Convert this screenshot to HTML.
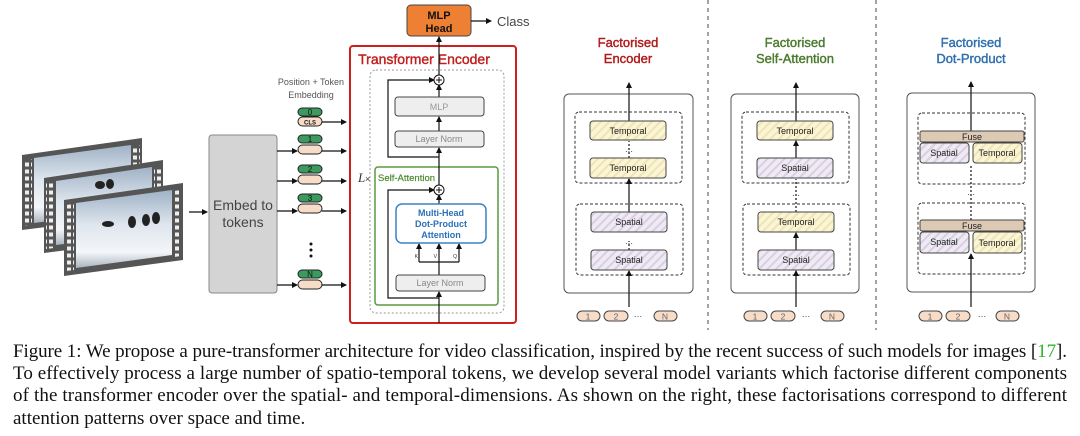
<!DOCTYPE html>
<html><head><meta charset="utf-8"><style>
html,body{margin:0;padding:0;background:#fff;}
svg{display:block;}
.s{font-family:"Liberation Sans",sans-serif;}
.cap{font-family:"Liberation Serif",serif;font-size:19px;fill:#111;}
</style></head><body>
<svg width="1080" height="436" viewBox="0 0 1080 436" xmlns="http://www.w3.org/2000/svg">
<defs>
<marker id="a" markerWidth="6" markerHeight="6" refX="5" refY="3" orient="auto" markerUnits="userSpaceOnUse"><path d="M0,0 L6,3 L0,6z" fill="#111"/></marker>
<pattern id="ht" width="6" height="6" patternUnits="userSpaceOnUse" patternTransform="rotate(45)"><rect width="6" height="6" fill="#fbf5d8"/><rect width="2" height="6" fill="#f0e4b0"/></pattern>
<pattern id="hs" width="6" height="6" patternUnits="userSpaceOnUse" patternTransform="rotate(45)"><rect width="6" height="6" fill="#efeaf3"/><rect width="2" height="6" fill="#d8cfe2"/></pattern>
<linearGradient id="ph" x1="0" y1="0" x2="0" y2="1"><stop offset="0" stop-color="#9fb2c6"/><stop offset="0.45" stop-color="#dfe6ee"/><stop offset="0.8" stop-color="#f4f6f8"/><stop offset="1" stop-color="#a9b4bf"/></linearGradient>
<pattern id="sp" width="6" height="7" patternUnits="userSpaceOnUse"><rect width="6" height="7" fill="#555"/><rect x="1" y="1.5" width="4" height="4" fill="#eee"/></pattern>
</defs>

<!-- film frames -->
<g>
<polygon points="22,155 142,138 142,215 22,230" fill="#555"/>
<polygon points="24,160 32,159 32,225 24,226" fill="url(#sp)"/>
<polygon points="133,146 140,145 140,211 133,212" fill="url(#sp)"/>
<polygon points="34,158 131,145 131,211 34,223" fill="url(#ph)"/>
<polygon points="44,178 163,160 163,238 44,253" fill="#555"/>
<polygon points="46,183 54,182 54,248 46,249" fill="url(#sp)"/>
<polygon points="154,168 161,167 161,233 154,234" fill="url(#sp)"/>
<polygon points="56,181 152,167 152,233 56,245" fill="url(#ph)"/>
<g fill="#222"><ellipse cx="100" cy="185" rx="5" ry="4"/><ellipse cx="110" cy="184" rx="4" ry="5"/></g>
<polygon points="64,200 183,183 183,260 64,276" fill="#555"/>
<polygon points="66,205 74,204 74,270 66,271" fill="url(#sp)"/>
<polygon points="174,191 181,190 181,256 174,257" fill="url(#sp)"/>
<polygon points="76,203 172,190 172,255 76,268" fill="url(#ph)"/>
<g fill="#222"><ellipse cx="132" cy="222" rx="4" ry="6"/><ellipse cx="146" cy="220" rx="4" ry="6"/><ellipse cx="156" cy="218" rx="4" ry="6"/><ellipse cx="108" cy="224" rx="6" ry="3"/></g>
</g>
<line x1="189" y1="212" x2="207" y2="212" stroke="#111" stroke-width="1.2" marker-end="url(#a)"/>

<!-- embed box -->
<rect x="209" y="135" width="68" height="158" rx="3" fill="#d4d4d4" stroke="#888" stroke-width="1"/>
<text class="s" x="243" y="210" font-size="14" fill="#444" text-anchor="middle">Embed to</text>
<text class="s" x="243" y="227" font-size="14" fill="#444" text-anchor="middle">tokens</text>

<text class="s" x="311" y="85" font-size="9" fill="#555" text-anchor="middle">Position + Token</text>
<text class="s" x="311" y="98" font-size="9" fill="#555" text-anchor="middle">Embedding</text>

<g stroke="#222" stroke-width="1">
<rect x="298" y="108" width="24" height="8" rx="4" fill="#3c9a5f"/>
<rect x="298" y="117" width="24" height="9" rx="4.5" fill="#f7dcc8"/>
<rect x="298" y="135" width="24" height="8" rx="4" fill="#3c9a5f"/>
<rect x="298" y="145" width="24" height="9" rx="4.5" fill="#f7dcc8"/>
<rect x="298" y="165" width="24" height="8" rx="4" fill="#3c9a5f"/>
<rect x="298" y="175" width="24" height="9" rx="4.5" fill="#f7dcc8"/>
<rect x="298" y="194" width="24" height="8" rx="4" fill="#3c9a5f"/>
<rect x="298" y="204" width="24" height="9" rx="4.5" fill="#f7dcc8"/>
<rect x="298" y="270" width="24" height="8" rx="4" fill="#3c9a5f"/>
<rect x="298" y="280" width="24" height="9" rx="4.5" fill="#f7dcc8"/>
</g>
<g class="s" font-size="8" fill="#111" text-anchor="middle">
<text x="310" y="115">0</text><text x="310" y="124.5" font-size="6" font-weight="bold">CLS</text>
<text x="310" y="142">1</text><text x="310" y="172">2</text><text x="310" y="201">3</text><text x="310" y="277">N</text>
</g>
<g fill="#111"><circle cx="311" cy="244" r="1.5"/><circle cx="311" cy="250" r="1.5"/><circle cx="311" cy="256" r="1.5"/></g>
<g stroke="#111" stroke-width="1.2" marker-end="url(#a)">
<line x1="322" y1="122" x2="346" y2="122"/>
<line x1="322" y1="151" x2="346" y2="151"/>
<line x1="322" y1="181" x2="346" y2="181"/>
<line x1="322" y1="211" x2="346" y2="211"/>
<line x1="322" y1="285" x2="346" y2="285"/>
<line x1="277" y1="151" x2="297" y2="151"/>
<line x1="277" y1="181" x2="297" y2="181"/>
<line x1="277" y1="211" x2="297" y2="211"/>
<line x1="277" y1="285" x2="297" y2="285"/>
</g>

<!-- transformer encoder -->
<rect x="407" y="5" width="64" height="31" rx="4" fill="#ee8033" stroke="#444" stroke-width="1"/>
<text class="s" x="439" y="19" font-size="11" font-weight="bold" fill="#111" text-anchor="middle">MLP</text>
<text class="s" x="439" y="32" font-size="11" font-weight="bold" fill="#111" text-anchor="middle">Head</text>
<line x1="471" y1="21" x2="491" y2="21" stroke="#111" stroke-width="1.2" marker-end="url(#a)"/>
<text class="s" x="497" y="26" font-size="13" fill="#444">Class</text>

<rect x="350" y="46" width="166" height="277" rx="3" fill="none" stroke="#cc1f1f" stroke-width="2"/>
<text class="s" x="424" y="64" font-size="14" fill="#c31c1c" stroke="#c31c1c" stroke-width="0.4" text-anchor="middle">Transformer  Encoder</text>
<rect x="370" y="70" width="134" height="243" rx="6" fill="none" stroke="#999" stroke-width="1" stroke-dasharray="2,2"/>
<text x="358" y="182" font-size="13" font-style="italic" fill="#333" font-family="Liberation Serif,serif">L</text><text x="365" y="182" font-size="9" fill="#333" class="s">×</text>

<rect x="375" y="167" width="123" height="138" rx="3" fill="none" stroke="#5a9a3e" stroke-width="1.5"/>
<text class="s" x="378" y="181" font-size="9.5" fill="#4e8a30" stroke="#4e8a30" stroke-width="0.2">Self-Attention</text>

<g stroke="#111" stroke-width="1.2" fill="none">
<line x1="439" y1="323" x2="439" y2="292" marker-end="url(#a)"/>
<line x1="439" y1="275" x2="439" y2="262"/>
<line x1="419" y1="262" x2="459" y2="262"/>
<line x1="419" y1="262" x2="419" y2="244" marker-end="url(#a)"/>
<line x1="439" y1="262" x2="439" y2="244" marker-end="url(#a)"/>
<line x1="459" y1="262" x2="459" y2="244" marker-end="url(#a)"/>
<line x1="439" y1="204" x2="439" y2="195" marker-end="url(#a)"/>
<polyline points="439,298 388,298 388,190 434,190" marker-end="url(#a)"/>
<line x1="439" y1="185" x2="439" y2="148" marker-end="url(#a)"/>
<line x1="439" y1="131" x2="439" y2="117" marker-end="url(#a)"/>
<line x1="439" y1="97" x2="439" y2="85" marker-end="url(#a)"/>
<polyline points="439,157 388,157 388,80 434,80" marker-end="url(#a)"/>
<line x1="439" y1="75" x2="439" y2="37" marker-end="url(#a)"/>
</g>
<g fill="#fff" stroke="#111" stroke-width="1"><circle cx="439" cy="190" r="5"/><circle cx="439" cy="80" r="5"/></g>
<g stroke="#111" stroke-width="1"><path d="M436,190h6M439,187v6M436,80h6M439,77v6"/></g>
<text class="s" x="418" y="258" font-size="5" fill="#333" text-anchor="end">K</text>
<text class="s" x="437" y="258" font-size="5" fill="#333" text-anchor="end">V</text>
<text class="s" x="457" y="258" font-size="5" fill="#333" text-anchor="end">Q</text>

<rect x="395" y="97" width="89" height="19" rx="3" fill="#eeeeee" stroke="#444" stroke-width="1"/>
<text class="s" x="439" y="110" font-size="9" fill="#999" text-anchor="middle">MLP</text>
<rect x="395" y="131" width="89" height="16" rx="3" fill="#eeeeee" stroke="#444" stroke-width="1"/>
<text class="s" x="439" y="142" font-size="9" fill="#888" text-anchor="middle">Layer Norm</text>
<rect x="396" y="204" width="90" height="39" rx="6" fill="#fff" stroke="#3a82c8" stroke-width="1.5"/>
<g class="s" font-size="9" fill="#2a70b8" text-anchor="middle" font-weight="bold"><text x="441" y="216">Multi-Head</text><text x="441" y="227">Dot-Product</text><text x="441" y="238">Attention</text></g>
<rect x="396" y="275" width="89" height="16" rx="3" fill="#eeeeee" stroke="#444" stroke-width="1"/>
<text class="s" x="440" y="286" font-size="9" fill="#888" text-anchor="middle">Layer Norm</text>

<!-- dividers -->
<line x1="708" y1="0" x2="708" y2="330" stroke="#666" stroke-width="1.2" stroke-dasharray="4,4"/>
<line x1="876" y1="0" x2="876" y2="330" stroke="#666" stroke-width="1.2" stroke-dasharray="4,4"/>

<!-- titles -->
<g class="s" font-size="13" text-anchor="middle" stroke-width="0.4">
<text x="628" y="47" fill="#b01a1a" stroke="#b01a1a">Factorised</text><text x="628" y="63" fill="#b01a1a" stroke="#b01a1a">Encoder</text>
<text x="795" y="47" fill="#4b7a2e" stroke="#4b7a2e">Factorised</text><text x="795" y="63" fill="#4b7a2e" stroke="#4b7a2e">Self-Attention</text>
<text x="971" y="47" fill="#2e6fae" stroke="#2e6fae">Factorised</text><text x="971" y="63" fill="#2e6fae" stroke="#2e6fae">Dot-Product</text>
</g>

<!-- panel outlines -->
<g fill="none" stroke="#555" stroke-width="1">
<rect x="564" y="94" width="129" height="199" rx="5"/>
<rect x="731" y="94" width="128" height="199" rx="5"/>
<rect x="907" y="93" width="128" height="199" rx="5"/>
</g>
<g fill="none" stroke="#333" stroke-width="1" stroke-dasharray="3,2">
<rect x="575" y="112" width="107" height="71" rx="4"/><rect x="576" y="204" width="107" height="71" rx="4"/>
<rect x="742" y="112" width="107" height="71" rx="4"/><rect x="743" y="204" width="107" height="71" rx="4"/>
<rect x="918" y="113" width="107" height="71" rx="4"/><rect x="918" y="203" width="107" height="71" rx="4"/>
</g>

<!-- arrows in panels -->
<g stroke="#111" stroke-width="1.2" fill="none">
<line x1="629" y1="307" x2="629" y2="271" marker-end="url(#a)"/>
<line x1="629" y1="250" x2="629" y2="241" stroke-dasharray="2,2"/>
<line x1="629" y1="212" x2="629" y2="179" marker-end="url(#a)"/>
<line x1="629" y1="158" x2="629" y2="141" stroke-dasharray="2,2"/>
<line x1="629" y1="121" x2="629" y2="83" marker-end="url(#a)"/>

<line x1="796" y1="307" x2="796" y2="271" marker-end="url(#a)"/>
<line x1="796" y1="250" x2="796" y2="233" marker-end="url(#a)"/>
<line x1="796" y1="212" x2="796" y2="179" stroke-dasharray="2,2"/>
<line x1="796" y1="158" x2="796" y2="141" marker-end="url(#a)"/>
<line x1="796" y1="121" x2="796" y2="83" marker-end="url(#a)"/>

<line x1="971" y1="307" x2="971" y2="254" marker-end="url(#a)"/>
<line x1="971" y1="220" x2="971" y2="164" stroke-dasharray="2,2"/>
<line x1="971" y1="131" x2="971" y2="82" marker-end="url(#a)"/>
</g>

<g stroke="#444" stroke-width="1">
<rect x="590" y="121" width="76" height="19" rx="3" fill="url(#ht)"/>
<rect x="590" y="158" width="76" height="20" rx="3" fill="url(#ht)"/>
<rect x="591" y="212" width="76" height="20" rx="3" fill="url(#hs)"/>
<rect x="591" y="250" width="76" height="20" rx="3" fill="url(#hs)"/>
<rect x="757" y="121" width="76" height="19" rx="3" fill="url(#ht)"/>
<rect x="757" y="158" width="76" height="20" rx="3" fill="url(#hs)"/>
<rect x="758" y="212" width="76" height="20" rx="3" fill="url(#ht)"/>
<rect x="758" y="250" width="76" height="20" rx="3" fill="url(#hs)"/>
<rect x="920" y="131" width="104" height="11" rx="2" fill="#dccab4"/>
<rect x="920" y="143" width="49" height="20" rx="3" fill="url(#hs)"/>
<rect x="973" y="143" width="49" height="20" rx="3" fill="url(#ht)"/>
<rect x="920" y="220" width="104" height="11" rx="2" fill="#dccab4"/>
<rect x="920" y="232" width="49" height="21" rx="3" fill="url(#hs)"/>
<rect x="973" y="232" width="49" height="21" rx="3" fill="url(#ht)"/>
</g>
<g class="s" font-size="9" fill="#222" text-anchor="middle">
<text x="628" y="134">Temporal</text><text x="628" y="171">Temporal</text>
<text x="629" y="225">Spatial</text><text x="629" y="263">Spatial</text>
<text x="795" y="134">Temporal</text><text x="795" y="171">Spatial</text>
<text x="796" y="225">Temporal</text><text x="796" y="263">Spatial</text>
<text x="972" y="140">Fuse</text><text x="944" y="156">Spatial</text><text x="997" y="156">Temporal</text>
<text x="972" y="229">Fuse</text><text x="944" y="245">Spatial</text><text x="997" y="246">Temporal</text>
</g>
<g fill="#111"><text class="s" x="629" y="154" font-size="8" text-anchor="middle">···</text><text class="s" x="629" y="246" font-size="8" text-anchor="middle">···</text><text class="s" x="796" y="198" font-size="8" text-anchor="middle">···</text><text class="s" x="971" y="197" font-size="8" text-anchor="middle">···</text></g>

<!-- token rows -->
<g stroke="#444" stroke-width="1" fill="#f7dcc8">
<rect x="577" y="311" width="23" height="10" rx="5"/><rect x="604" y="311" width="24" height="10" rx="5"/><rect x="654" y="311" width="23" height="10" rx="5"/>
<rect x="744" y="311" width="23" height="10" rx="5"/><rect x="771" y="311" width="24" height="10" rx="5"/><rect x="821" y="311" width="23" height="10" rx="5"/>
<rect x="919" y="311" width="23" height="10" rx="5"/><rect x="946" y="311" width="24" height="10" rx="5"/><rect x="996" y="311" width="23" height="10" rx="5"/>
</g>
<g class="s" font-size="8.5" fill="#666" text-anchor="middle">
<text x="588" y="319.5">1</text><text x="616" y="319.5">2</text><text x="638" y="319" fill="#222">···</text><text x="665" y="319.5">N</text>
<text x="755" y="319.5">1</text><text x="783" y="319.5">2</text><text x="806" y="319" fill="#222">···</text><text x="832" y="319.5">N</text>
<text x="930" y="319.5">1</text><text x="958" y="319.5">2</text><text x="982" y="319" fill="#222">···</text><text x="1007" y="319.5">N</text>
</g>

<!-- caption -->
<text class="cap" x="13" y="357" textLength="1054" lengthAdjust="spacing">Figure 1: We propose a pure-transformer architecture for video classification, inspired by the recent success of such models for images [<tspan fill="#2bb52b">17</tspan>].</text>
<text class="cap" x="13" y="379" textLength="1054" lengthAdjust="spacing">To effectively process a large number of spatio-temporal tokens, we develop several model variants which factorise different components</text>
<text class="cap" x="13" y="401" textLength="1054" lengthAdjust="spacing">of the transformer encoder over the spatial- and temporal-dimensions. As shown on the right, these factorisations correspond to different</text>
<text class="cap" x="13" y="424">attention patterns over space and time.</text>
</svg>
</body></html>
